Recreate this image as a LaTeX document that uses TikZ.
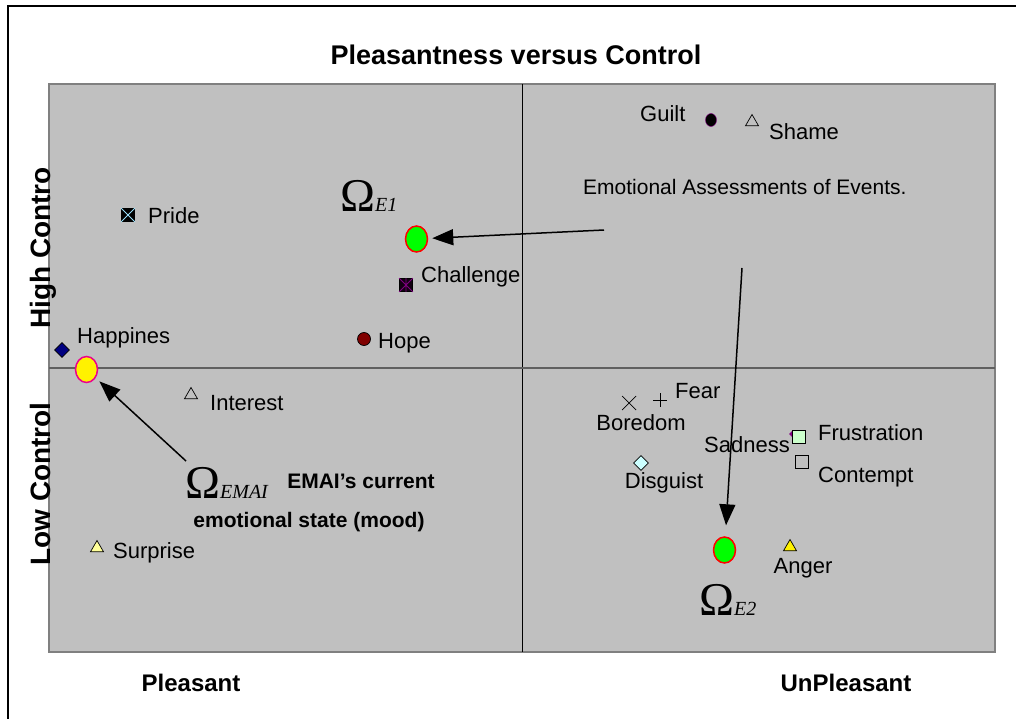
\documentclass[tikz,border=0pt]{standalone}
\usepackage{fontspec}
\setmainfont{Liberation Sans}
\newfontfamily\omegafont{Liberation Serif}
\usetikzlibrary{arrows.meta,shapes.geometric}

\definecolor{plotgray}{HTML}{C0C0C0}
\definecolor{framegray}{HTML}{808080}
\definecolor{midline}{HTML}{606060}
\definecolor{paleyellow}{HTML}{FFFF99}
\definecolor{palegreen}{HTML}{CCFFCC}
\definecolor{palecyan}{HTML}{CCFFFF}

\begin{document}
\begin{tikzpicture}[x=1pt, y=-1pt,
  lbl/.style={inner sep=0pt, anchor=base west, font=\fontsize{22}{26}\selectfont},
  axislbl/.style={inner sep=0pt, anchor=base, font=\bfseries\fontsize{24}{28}\selectfont},
  omega/.style={inner sep=0pt, anchor=base west, font=\omegafont\fontsize{47}{50}\selectfont},
  blob/.style={ellipse, draw, line width=1.5pt, minimum width=22pt, minimum height=26pt, inner sep=0pt},
  tri/.style={regular polygon, regular polygon sides=3, draw, line width=0.7pt, minimum size=15pt, inner sep=0pt},
  sq/.style={rectangle, draw, line width=0.7pt, minimum size=13pt, inner sep=0pt},
  dia/.style={diamond, draw, line width=0.7pt, minimum size=15pt, inner sep=0pt},
  pointer/.style={line width=1.5pt, -{Triangle[length=21pt,width=16pt]}}]
\useasboundingbox (0,0) rectangle (1016,719);

% Frame
\draw[line width=2.2pt] (8,719) -- (8,6) -- (1016,6);

% Plot area
\fill[plotgray] (49,84) rectangle (995,652);
\draw[framegray, line width=2pt] (49,84) rectangle (995,652);
\draw[black, line width=1pt] (522,84) -- (522,652);
\draw[midline, line width=1.5pt] (49,368) -- (995,368);

% Titles
\node[inner sep=0pt, anchor=base, font=\bfseries\fontsize{27}{30}\selectfont] (title) at (516,65) {Pleasantness versus Control};
\node[axislbl] (pleasant) at (191,691) {Pleasant};
\node[axislbl] (unpleasant) at (846,691) {UnPleasant};
\node[axislbl, font=\bfseries\fontsize{28}{30}\selectfont, rotate=90] (high) at (50,248) {High Contro};
\node[axislbl, font=\bfseries\fontsize{28}{30}\selectfont, rotate=90] (low) at (50,484) {Low Control};

% Emotions, pleasant side
\node[sq, fill=black] (pride) at (128,215) {};
\draw[cyan!40!white, thick] (pride.north west) -- (pride.south east) (pride.north east) -- (pride.south west);
\node[lbl] (pridetxt) at (148,223) {Pride};

\node[sq, fill=black!85!violet] (challenge) at (406,285) {};
\draw[violet, thick] (challenge.north west) -- (challenge.south east) (challenge.north east) -- (challenge.south west) (challenge.north) -- (challenge.south);
\node[lbl] (challengetxt) at (421,282) {Challenge};

\node[circle, draw, line width=0.7pt, fill=red!50!black, minimum size=13pt, inner sep=0pt] (hope) at (364,339) {};
\node[lbl] (hopetxt) at (378,348) {Hope};

\node[dia, fill=blue!50!black] (happy) at (62,350) {};
\node[lbl] (happytxt) at (77,343) {Happines};

\node[tri] (interest) at (191,395) {};
\node[lbl] (interesttxt) at (210,410) {Interest};

\node[tri, fill=paleyellow] (surprise) at (97,548) {};
\node[lbl] (surprisetxt) at (113,558) {Surprise};

% Emotions, unpleasant side
\node[ellipse, draw=violet, thin, fill=black, minimum width=11pt, minimum height=13pt, inner sep=0pt] (guilt) at (711,120) {};
\node[lbl] (guilttxt) at (640,122) {Guilt};

\node[tri] (shame) at (752,122) {};
\node[lbl] (shametxt) at (769,140) {Shame};

\coordinate (fear) at (660,400);
\draw[line width=0.7pt] (fear) ++(-7,0) -- ++(14,0) (fear) ++(0,-7) -- ++(0,14);
\node[lbl] (feartxt) at (675,398) {Fear};

\coordinate (boredom) at (629,403);
\draw[line width=0.7pt] (boredom) ++(-7,-7) -- ++(14,14) (boredom) ++(-7,7) -- ++(14,-14);
\node[lbl, anchor=base] (boredomtxt) at (641,430) {Boredom};

\node[diamond, fill=violet, minimum size=6pt, inner sep=0pt] (sadness) at (792,434) {};
\node[lbl, anchor=base] (sadnesstxt) at (747,452) {Sadness};

\node[sq, fill=palegreen] (frustration) at (799,437) {};
\node[lbl] (frustrationtxt) at (818,440) {Frustration};

\node[sq] (contempt) at (802,462) {};
\node[lbl] (contempttxt) at (818,482) {Contempt};

\node[dia, fill=palecyan] (disgust) at (641,463) {};
\node[lbl, anchor=base] (disgusttxt) at (664,488) {Disguist};

\node[tri, fill=yellow] (anger) at (790,547) {};
\node[lbl, anchor=base] (angertxt) at (803,573) {Anger};

% States
\node[blob, fill=yellow, draw=magenta] (mood) at (86.5,369.5) {};
\node[blob, fill=green, draw=red] (e1) at (416.5,239) {};
\node[blob, fill=green, draw=red] (e2) at (724.5,550) {};

\node[omega] (omemai) at (185,498) {Ω{\fontsize{20}{20}\itshape EMAI}};
\node[omega] (ome1) at (340,212) {Ω{\fontsize{20}{20}\itshape E1}};
\node[omega] (ome2) at (699,615) {Ω{\fontsize{20}{20}\itshape E2}};

\node[lbl, anchor=base, font=\bfseries\fontsize{21}{24}\selectfont] (moodtxt) at (361,488) {EMAI’s current};
\node[lbl, anchor=base, font=\bfseries\fontsize{21}{24}\selectfont] (moodtxt2) at (309,527) {emotional state (mood)};
\node[lbl, font=\fontsize{21}{24}\selectfont] (events) at (583,195) {Emotional Assessments of Events.};

% Pointers
\coordinate (moodsrc) at (186,461);
\coordinate (e1src) at (604,230);
\coordinate (e2src) at (742,268);
\draw[pointer, shorten >=5pt] (moodsrc) -- (mood);
\draw[pointer, shorten >=4pt] (e1src) -- (e1);
\draw[pointer, shorten >=11pt] (e2src) -- (e2);
\end{tikzpicture}
\end{document}
